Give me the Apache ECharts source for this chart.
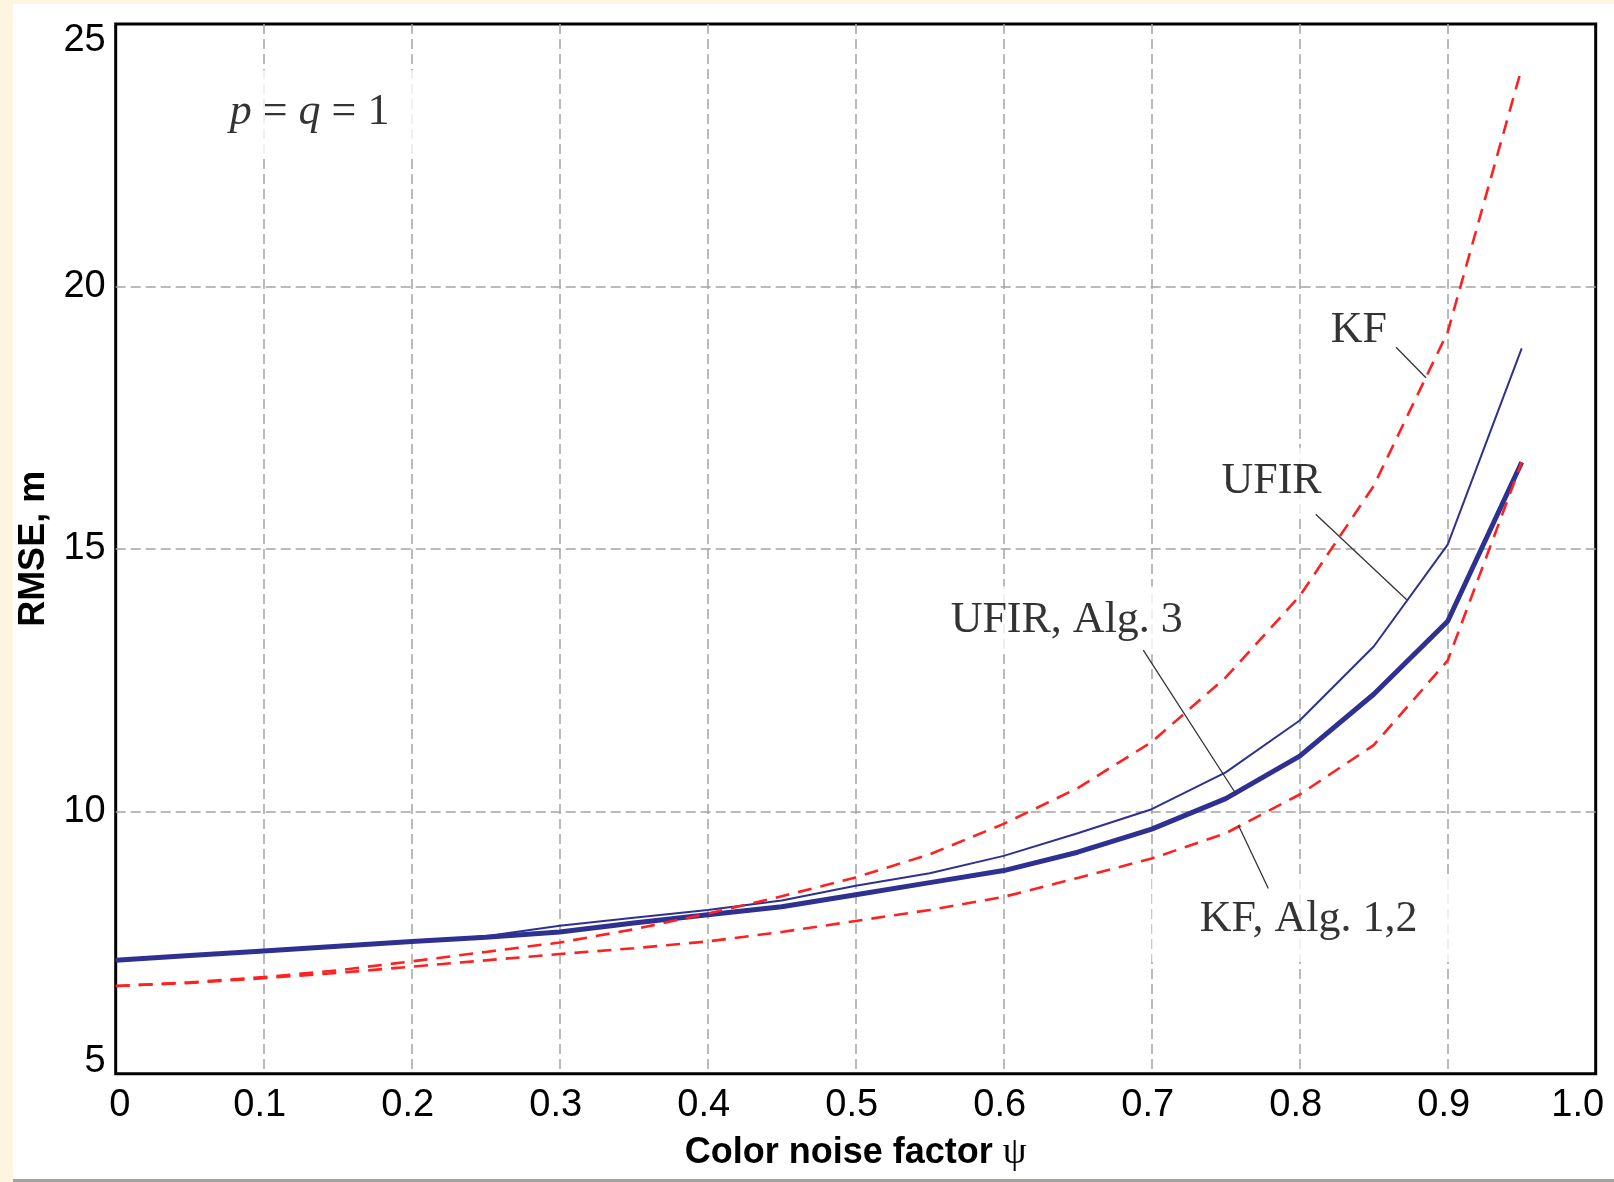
<!DOCTYPE html>
<html>
<head>
<meta charset="utf-8">
<script src="https://cdn.jsdelivr.net/npm/echarts@6/dist/echarts.min.js"></script>
<style>
  html, body { margin: 0; padding: 0; width: 1614px; height: 1182px; background: #FDF5E0; overflow: hidden; }
  #main { position: absolute; left: 13px; top: 4px; width: 1601px; height: 1175px; background: #ffffff; border-bottom: 3px solid #a3a399; }
</style>
</head>
<body>
<div id="main"></div>
<script>
// ---- data ----
const psi = [0, 0.05, 0.1, 0.15, 0.2, 0.25, 0.3, 0.35, 0.4, 0.45, 0.5, 0.55, 0.6, 0.65, 0.7, 0.75, 0.8, 0.85, 0.9, 0.95];
const ufir      = [7.16, 7.25, 7.34, 7.43, 7.52, 7.62, 7.82, 7.97, 8.12, 8.30, 8.58, 8.82, 9.15, 9.58, 10.04, 10.74, 11.73, 13.14, 15.08, 18.82];
const ufirAlg3  = [7.16, 7.25, 7.34, 7.43, 7.52, 7.60, 7.70, 7.87, 8.03, 8.18, 8.41, 8.64, 8.87, 9.22, 9.66, 10.24, 11.05, 12.23, 13.62, 16.65];
const kf        = [6.67, 6.74, 6.84, 6.97, 7.14, 7.32, 7.50, 7.75, 8.05, 8.38, 8.74, 9.18, 9.76, 10.44, 11.32, 12.55, 14.10, 16.20, 19.13, 24.16];
const kfAlg12   = [6.67, 6.73, 6.82, 6.92, 7.04, 7.16, 7.28, 7.39, 7.52, 7.70, 7.91, 8.12, 8.37, 8.73, 9.10, 9.58, 10.32, 11.26, 12.87, 16.65];
const xTicks = { min: 0, max: 1, interval: 0.1 };
const yTicks = { min: 5, max: 25, interval: 5 };
const xTitle = 'Color noise factor ';
const yTitle = 'RMSE, m';

// annotation texts (anchored in data coordinates)
const noteTexts = ['{i|p} = {i|q} = 1', 'KF', 'UFIR', 'UFIR, Alg. 3', 'KF, Alg. 1,2'];
const noteAt    = [[0.131, 23.32], [0.840, 19.17], [0.781, 16.28], [0.6426, 13.64], [0.806, 7.93]];
const leaders = [
  [[0.8651, 18.84], [0.8853, 18.26]],
  [[0.8108, 15.66], [0.8723, 14.03]],
  [[0.6943, 13.07], [0.7574, 10.31]],
  [[0.7585, 9.74], [0.7788, 8.53]]
];

// ---- chart ----
const zip = (xs, ys) => xs.map((x, i) => [x, ys[i]]);
const sans = "'Liberation Sans', Arial, sans-serif";
const serif = "'Liberation Serif', 'Times New Roman', serif";
const notePadding = [[20, 30], [14, 30], [12, 20], [12, 20], [20, 48]];
const tickFont = { fontSize: 38, fontFamily: sans, color: '#000' };

const chart = echarts.init(document.getElementById('main'), null, { renderer: 'canvas' });
chart.setOption({
  animation: false,
  grid: {
    left: 102.7, right: 18.3, top: 20, bottom: 105.3,
    outerBoundsMode: 'none', containLabel: false,
    show: true, borderColor: '#000', borderWidth: 3, backgroundColor: 'transparent'
  },
  xAxis: {
    type: 'value', min: xTicks.min, max: xTicks.max, interval: xTicks.interval,
    axisLine: { show: false }, axisTick: { show: false },
    splitLine: { show: true, showMinLine: false, showMaxLine: false,
      lineStyle: { color: '#a4a4a4', width: 1.5, type: [10, 5] } },
    axisLabel: {
      margin: 13, fontSize: 38, fontFamily: sans, color: '#000',
      formatter: v => v === 0 ? '{z|0}' : (Math.abs(v - 1) < 1e-9 ? '{e|1.0}' : '{n|' + v.toFixed(1) + '}'),
      rich: {
        z: Object.assign({ padding: [0, 0, 0, 8] }, tickFont),
        n: Object.assign({ padding: [0, 8, 0, 0] }, tickFont),
        e: Object.assign({ padding: [0, 36, 0, 0] }, tickFont)
      }
    },
    name: '{b|' + xTitle + '}{g|ψ}', nameLocation: 'middle', nameGap: 60,
    nameTextStyle: {
      rich: {
        b: { fontSize: 36, fontWeight: 'bold', fontFamily: sans, color: '#000' },
        g: { fontSize: 38, fontFamily: serif, color: '#000' }
      }
    }
  },
  yAxis: {
    type: 'value', min: yTicks.min, max: yTicks.max, interval: yTicks.interval,
    axisLine: { show: false }, axisTick: { show: false },
    splitLine: { show: true, showMinLine: false, showMaxLine: false,
      lineStyle: { color: '#a4a4a4', width: 1.5, type: [10, 5] } },
    axisLabel: {
      margin: 10, fontSize: 38, fontFamily: sans, color: '#000',
      formatter: v => v === yTicks.max ? '{t|' + v + '}' : (v === yTicks.min ? '{m|' + v + '}' : String(v)),
      rich: {
        t: Object.assign({ padding: [34, 0, 0, 0] }, tickFont),
        m: Object.assign({ padding: [0, 0, 24, 0] }, tickFont)
      }
    },
    name: yTitle, nameLocation: 'middle', nameGap: 63, nameRotate: 90,
    nameTextStyle: { fontSize: 36, fontWeight: 'bold', fontFamily: sans, color: '#000' }
  },
  series: [
    { name: 'UFIR', type: 'line', data: zip(psi, ufir), showSymbol: false, symbol: 'none',
      lineStyle: { color: '#2E3192', width: 2 }, z: 3 },
    { name: 'UFIR, Alg. 3', type: 'line', data: zip(psi, ufirAlg3), showSymbol: false, symbol: 'none',
      lineStyle: { color: '#2E3192', width: 5 }, z: 3 },
    { name: 'KF', type: 'line', data: zip(psi, kf), showSymbol: false, symbol: 'none',
      lineStyle: { color: '#FF2020', width: 2.6, type: [14, 9] }, z: 4 },
    { name: 'KF, Alg. 1,2', type: 'line', data: zip(psi, kfAlg12), showSymbol: false, symbol: 'none',
      lineStyle: { color: '#FF2020', width: 2.6, type: [14, 9] }, z: 4 },
    { name: 'notes', type: 'scatter', symbolSize: 0, z: 2, silent: true,
      data: noteAt.map((p, i) => ({
        value: p,
        label: {
          show: true, position: 'inside', formatter: noteTexts[i],
          fontSize: 44, fontFamily: serif, color: '#000',
          backgroundColor: '#ffffff', padding: notePadding[i],
          rich: { i: { fontSize: 44, fontFamily: serif, fontStyle: 'italic', color: '#000' } }
        }
      })),
      markLine: {
        silent: true, symbol: 'none', label: { show: false },
        lineStyle: { color: '#333', width: 1.3, type: 'solid' },
        data: leaders.map(([a, b]) => [{ coord: a }, { coord: b }])
      }
    }
  ]
});
</script>
</body>
</html>
